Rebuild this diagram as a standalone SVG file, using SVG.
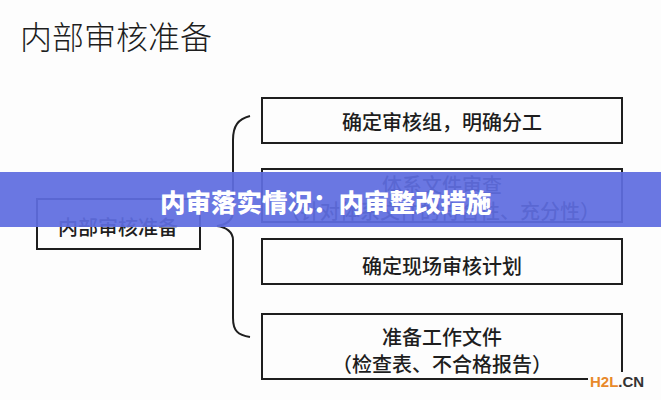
<svg xmlns="http://www.w3.org/2000/svg" width="661" height="400" viewBox="0 0 661 400">
<style>
.box{fill:none;stroke:#1e1e1e;stroke-width:2}
.t{font-family:"Noto Sans CJK SC","Noto Sans",sans-serif;fill:#1e1e1e;text-anchor:middle;dominant-baseline:central;font-weight:500}
.conn{fill:none;stroke:#1e1e1e;stroke-width:2}
</style>
<rect width="661" height="400" fill="#fdfdfd"/>
<g id="title"><text class="t" x="20" y="35" style="text-anchor:start;font-size:32px;font-weight:300">内部审核准备</text></g>
<g id="connectors">
<path class="conn" d="M250,116 C238,119 233,126 233,140 L233,212 C233,220 226,225 217,226 C226,227 233,232 233,240 L233,318 C233,331 238,335 250,337"/>
</g>
<g id="root"><rect class="box" x="37" y="199" width="163" height="50"/><text class="t" x="118" y="226" style="font-size:20px">内部审核准备</text></g>
<g id="n1"><rect class="box" x="262" y="98" width="360" height="45"/><text class="t" x="442" y="121" style="font-size:20px">确定审核组，明确分工</text></g>
<g id="n2"><rect class="box" x="262" y="169" width="360" height="53"/><text class="t" x="442" y="184" style="font-size:20px">体系文件审查</text><text class="t" x="440" y="210" style="font-size:20px">（针对体系文件的符合性、充分性）</text></g>
<g id="n3"><rect class="box" x="262" y="239" width="360" height="45"/><text class="t" x="442" y="265" style="font-size:20px">确定现场审核计划</text></g>
<g id="n4"><rect class="box" x="262" y="314" width="360" height="65"/><text class="t" x="442" y="336" style="font-size:20px">准备工作文件</text><text class="t" x="442" y="363" style="font-size:20px">（检查表、不合格报告）</text></g>
<g id="banner">
<rect x="0" y="172" width="661" height="55" fill="#5f6de0" opacity="0.93"/>
<text x="160" y="200" style="font-family:'Noto Sans CJK SC',sans-serif;font-size:25.5px;font-weight:900;fill:#ffffff;dominant-baseline:central">内审落实情况：内审整改措施</text>
</g>
<g id="watermark">
<rect x="588" y="372" width="66" height="18" fill="#fdfdfd"/>
<text x="590" y="381" style="font-family:'Liberation Sans',Arial,sans-serif;font-size:15px;font-weight:bold;dominant-baseline:central"><tspan fill="#e8892a">H2L</tspan><tspan fill="#333333">.CN</tspan></text>
</g>
</svg>
